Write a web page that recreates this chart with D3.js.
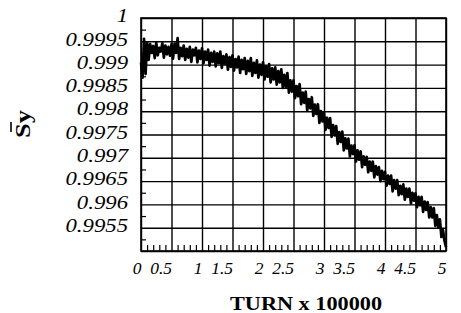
<!DOCTYPE html>
<html>
<head>
<meta charset="utf-8">
<script src="https://cdn.jsdelivr.net/npm/d3@7"></script>
<style>
  body { margin: 0; background: #fff; }
  svg { display: block; }
</style>
</head>
<body>
<div id="chart"></div>
<script>
// axis ticks and labels
const xTicks = [0, 0.5, 1, 1.5, 2, 2.5, 3, 3.5, 4, 4.5, 5];
const xTickLabels = ['0', '0.5', '1', '1.5', '2', '2.5', '3', '3.5', '4', '4.5', '5'];
const yTicks = [0.995, 0.9955, 0.996, 0.9965, 0.997, 0.9975, 0.998, 0.9985, 0.999, 0.9995, 1];
const yTickLabels = ['', '0.9955', '0.996', '0.9965', '0.997', '0.9975', '0.998', '0.9985', '0.999', '0.9995', '1'];

const turnStep = 0.025;
const sy = [
  0.99905, 0.99872, 0.99955, 0.99880, 0.99948, 0.99910, 0.99944, 0.99925, 0.99940, 0.99914,
  0.99947, 0.99920, 0.99936, 0.99928, 0.99946, 0.99915, 0.99941, 0.99922, 0.99938, 0.99919,
  0.99944, 0.99913, 0.99945, 0.99925, 0.99957, 0.99912, 0.99936, 0.99918, 0.99941, 0.99910,
  0.99934, 0.99915, 0.99938, 0.99906, 0.99932, 0.99920, 0.99936, 0.99905, 0.99930, 0.99912,
  0.99935, 0.99903, 0.99928, 0.99910, 0.99932, 0.99898, 0.99925, 0.99906, 0.99928, 0.99896,
  0.99924, 0.99903, 0.99928, 0.99893, 0.99918, 0.99902, 0.99922, 0.99889, 0.99916, 0.99895,
  0.99920, 0.99887, 0.99912, 0.99894, 0.99917, 0.99882, 0.99910, 0.99890, 0.99914, 0.99880,
  0.99908, 0.99886, 0.99914, 0.99876, 0.99904, 0.99882, 0.99909, 0.99872, 0.99900, 0.99878,
  0.99905, 0.99868, 0.99896, 0.99874, 0.99901, 0.99862, 0.99892, 0.99868, 0.99894, 0.99857,
  0.99886, 0.99862, 0.99890, 0.99850, 0.99878, 0.99852, 0.99882, 0.99840, 0.99866, 0.99842,
  0.99866, 0.99828, 0.99854, 0.99832, 0.99858, 0.99815, 0.99840, 0.99818, 0.99842, 0.99802,
  0.99826, 0.99806, 0.99830, 0.99790, 0.99814, 0.99794, 0.99815, 0.99775, 0.99800, 0.99778,
  0.99797, 0.99760, 0.99786, 0.99764, 0.99785, 0.99745, 0.99770, 0.99748, 0.99768, 0.99730,
  0.99755, 0.99734, 0.99756, 0.99716, 0.99742, 0.99720, 0.99741, 0.99703, 0.99726, 0.99708,
  0.99727, 0.99692, 0.99716, 0.99696, 0.99714, 0.99680, 0.99703, 0.99685, 0.99702, 0.99669,
  0.99692, 0.99672, 0.99692, 0.99658, 0.99682, 0.99664, 0.99680, 0.99650, 0.99672, 0.99654,
  0.99670, 0.99640, 0.99662, 0.99644, 0.99662, 0.99628, 0.99652, 0.99634, 0.99652, 0.99620,
  0.99640, 0.99622, 0.99643, 0.99610, 0.99634, 0.99616, 0.99634, 0.99602, 0.99625, 0.99608,
  0.99624, 0.99594, 0.99616, 0.99598, 0.99616, 0.99584, 0.99606, 0.99588, 0.99605, 0.99572,
  0.99594, 0.99572, 0.99592, 0.99554, 0.99577, 0.99550, 0.99568, 0.99530, 0.99545, 0.99522,
  0.99508
];

const W = 461, H = 313;
const margin = { top: 18, right: 15, bottom: 62, left: 141 };
const width = W - margin.left - margin.right,
  height = H - margin.top - margin.bottom;

const x = d3.scaleLinear().domain([0, 5]).range([0, width]);
const y = d3.scaleLinear().domain([0.995, 1]).range([height, 0]);

const svg = d3.select('#chart').append('svg')
  .attr('width', W).attr('height', H);

const g = svg.append('g')
  .attr('transform', `translate(${margin.left},${margin.top})`);

// grid (vertical + horizontal)
g.append('g')
  .attr('class', 'xgrid')
  .attr('transform', `translate(0,${height})`)
  .call(d3.axisBottom(x).tickValues(xTicks).tickSize(-height).tickFormat(''))
  .call((s) => s.select('.domain').remove())
  .call((s) => s.selectAll('line').attr('stroke', '#000').attr('stroke-width', 1.4));

g.append('g')
  .attr('class', 'ygrid')
  .call(d3.axisLeft(y).tickValues(yTicks).tickSize(-width).tickFormat(''))
  .call((s) => s.select('.domain').remove())
  .call((s) => s.selectAll('line').attr('stroke', '#000').attr('stroke-width', 1.4));

// minor ticks, pointing inward
const yMinor = yTicks.slice(0, -1).map((d) => d + 0.00025);
g.append('g')
  .call(d3.axisLeft(y).tickValues(yMinor).tickSize(-5).tickFormat(''))
  .call((s) => s.select('.domain').remove())
  .call((s) => s.selectAll('line').attr('stroke', '#000').attr('stroke-width', 1.2));

const xMinor = [];
xTicks.slice(0, -1).forEach((t) => [0.1, 0.2, 0.3, 0.4].forEach((k) => xMinor.push(t + k)));
g.append('g')
  .attr('transform', `translate(0,${height})`)
  .call(d3.axisBottom(x).tickValues(xMinor).tickSize(-6).tickFormat(''))
  .call((s) => s.select('.domain').remove())
  .call((s) => s.selectAll('line').attr('stroke', '#000').attr('stroke-width', 1.2));

// frame
g.append('rect')
  .attr('width', width).attr('height', height)
  .attr('fill', 'none').attr('stroke', '#000').attr('stroke-width', 1.6);

// tick labels
const yl = g.append('g')
  .call(d3.axisLeft(y).tickValues(yTicks).tickSize(0).tickPadding(13)
    .tickFormat((d, i) => yTickLabels[i]))
  .call((s) => s.select('.domain').remove());
yl.selectAll('text')
  .attr('font-family', '"Liberation Serif", "Times New Roman", serif')
  .attr('font-style', 'italic')
  .attr('font-size', 18.5)
  .attr('fill', '#000')
  .attr('dy', '0.2em')
  .each(function () {
    const w = this.getComputedTextLength();
    if (w > 0) d3.select(this).attr('textLength', w * 1.23).attr('lengthAdjust', 'spacingAndGlyphs');
  });

const xl = g.append('g')
  .attr('transform', `translate(0,${height})`)
  .call(d3.axisBottom(x).tickValues(xTicks).tickSize(0).tickPadding(10)
    .tickFormat((d, i) => xTickLabels[i]))
  .call((s) => s.select('.domain').remove());
xl.selectAll('text')
  .attr('font-family', '"Liberation Serif", "Times New Roman", serif')
  .attr('font-style', 'italic')
  .attr('font-size', 17.5)
  .attr('fill', '#000')
  .attr('text-anchor', 'end')
  .attr('dy', '0.72em');

// the curve
const line = d3.line()
  .x((d, i) => x(i * turnStep))
  .y((d) => y(d));

g.append('path')
  .datum(sy)
  .attr('fill', 'none')
  .attr('stroke', '#000')
  .attr('stroke-width', 2.7)
  .attr('stroke-linejoin', 'round')
  .attr('d', line);

// axis titles
svg.append('text')
  .attr('x', 306).attr('y', 310)
  .attr('text-anchor', 'middle')
  .attr('font-family', '"Liberation Serif", "Times New Roman", serif')
  .attr('font-weight', 'bold')
  .attr('font-size', 18.5)
  .attr('textLength', 152)
  .attr('lengthAdjust', 'spacingAndGlyphs')
  .text('TURN x 100000');

const ylab = svg.append('g').attr('transform', 'translate(30,138) rotate(-90)');
ylab.append('text')
  .attr('x', 0).attr('y', 0)
  .attr('font-family', '"Liberation Serif", "Times New Roman", serif')
  .attr('font-weight', 'bold')
  .attr('font-size', 21)
  .attr('textLength', 28)
  .attr('lengthAdjust', 'spacingAndGlyphs')
  .text('Sy');
ylab.append('line')
  .attr('x1', 6).attr('x2', 16)
  .attr('y1', -19).attr('y2', -19)
  .attr('stroke', '#000').attr('stroke-width', 1.6);
</script>
</body>
</html>
